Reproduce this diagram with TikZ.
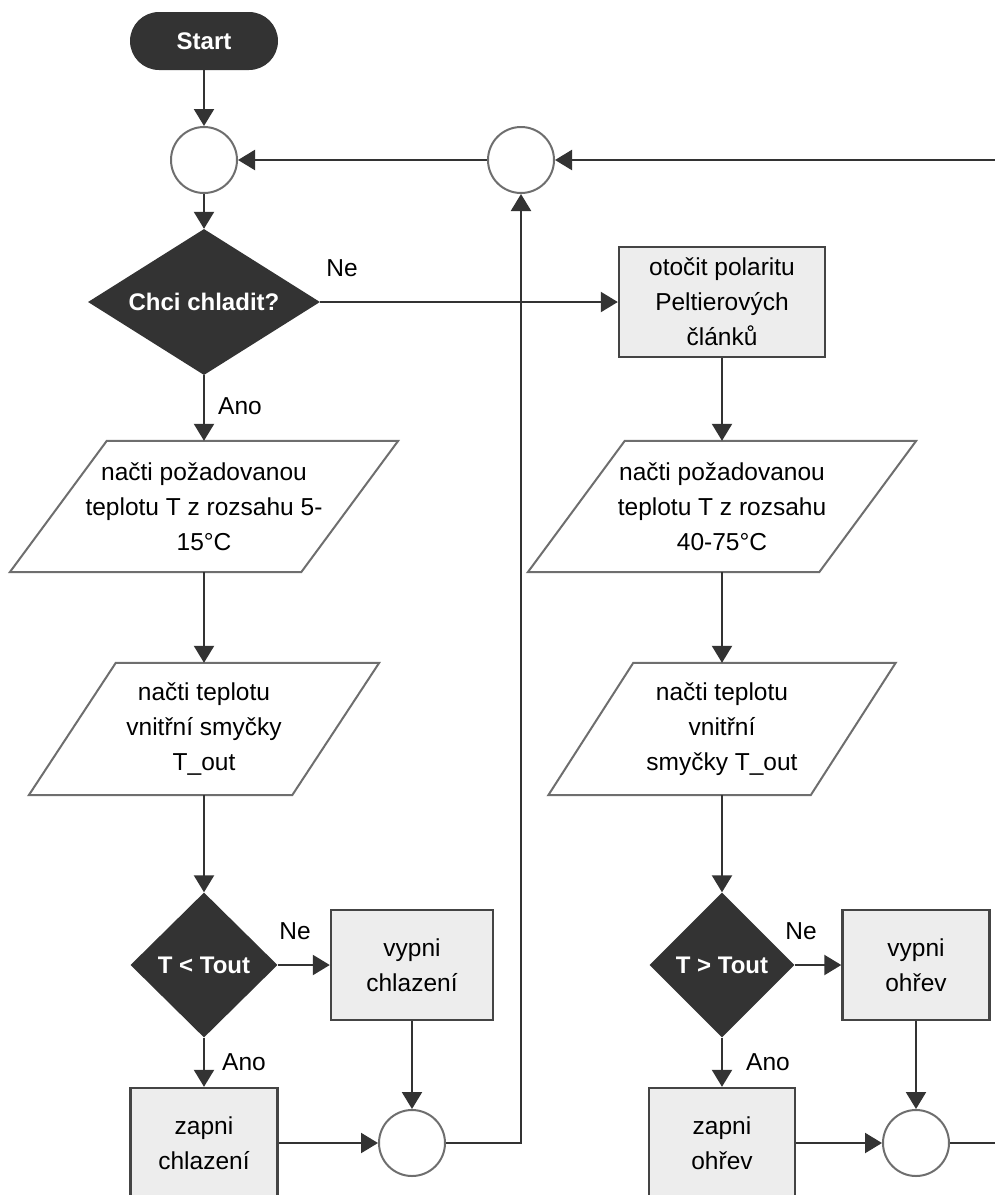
\documentclass[tikz,border=0pt]{standalone}
\usepackage{fontspec}
\setmainfont{Liberation Sans}
\usetikzlibrary{shapes.geometric,arrows.meta}
\definecolor{dark}{HTML}{333333}
\definecolor{boxfill}{HTML}{EDEDED}
\definecolor{boxline}{HTML}{444444}
\definecolor{circline}{HTML}{6E6E6E}
\begin{document}
\begin{tikzpicture}[x=1pt,y=-1pt,
  font=\fontsize{24.5}{35}\selectfont,
  term/.style={rectangle, rounded corners=29pt, fill=dark, text=white, font=\fontsize{24}{35}\selectfont\bfseries, minimum width=148pt, minimum height=58pt, inner sep=0pt},
  dec/.style={diamond, fill=dark, text=white, font=\fontsize{24}{35}\selectfont\bfseries, inner sep=0pt},
  proc/.style={rectangle, draw=boxline, line width=2.4pt, fill=boxfill, align=center, inner sep=0pt},
  joint/.style={circle, draw=circline, line width=2pt, fill=white, minimum size=66pt, inner sep=0pt},
  iotext/.style={rectangle, inner sep=0pt, align=center},
  ioline/.style={draw=circline, line width=2pt, line join=miter},
  flow/.style={draw=dark, line width=2.2pt, -{Triangle[length=17pt,width=20pt]}},
  plain/.style={draw=dark, line width=2.2pt},
  lbl/.style={inner sep=0pt, text=black}
]
\useasboundingbox (0,0) rectangle (995,1195);
\clip (0,0) rectangle (995,1195);

% nodes
\node[term] (start) at (204,41) {Start};
\node[joint] (c1) at (204,160) {};
\node[joint] (c2) at (521,160) {};
\coordinate (re) at (995,160);
\node[dec, aspect=1.59, minimum width=232pt, minimum height=146pt] (d1) at (204,302) {Chci chladit?};
\node[proc, minimum width=206pt, minimum height=110pt] (otoc) at (722,302) {otočit polaritu\\Peltierových\\článků};

\node[iotext, minimum width=291pt, minimum height=131pt] (p1) at (204,506.5) {načti požadovanou\\teplotu T z rozsahu 5-\\15°C};
\draw[ioline] ([xshift=48.5pt]p1.north west) -- ([xshift=48.5pt]p1.north east) -- ([xshift=-48.5pt]p1.south east) -- ([xshift=-48.5pt]p1.south west) -- cycle;
\node[iotext, minimum width=263pt, minimum height=132pt] (p2) at (204,729) {načti teplotu\\vnitřní smyčky\\T\_out};
\draw[ioline] ([xshift=43.5pt]p2.north west) -- ([xshift=43.5pt]p2.north east) -- ([xshift=-43.5pt]p2.south east) -- ([xshift=-43.5pt]p2.south west) -- cycle;

\node[iotext, minimum width=291pt, minimum height=131pt] (rp1) at (722,506.5) {načti požadovanou\\teplotu T z rozsahu\\40-75°C};
\draw[ioline] ([xshift=48.5pt]rp1.north west) -- ([xshift=48.5pt]rp1.north east) -- ([xshift=-48.5pt]rp1.south east) -- ([xshift=-48.5pt]rp1.south west) -- cycle;
\node[iotext, minimum width=262pt, minimum height=132pt] (rp2) at (722,729) {načti teplotu\\vnitřní\\smyčky T\_out};
\draw[ioline] ([xshift=42.5pt]rp2.north west) -- ([xshift=42.5pt]rp2.north east) -- ([xshift=-42.5pt]rp2.south east) -- ([xshift=-42.5pt]rp2.south west) -- cycle;

\node[dec, minimum width=147pt, minimum height=145pt] (d2) at (204,965) {T < Tout};
\node[proc, minimum width=162pt, minimum height=110pt] (vyp1) at (412,965) {vypni\\chlazení};
\node[proc, minimum width=147pt, minimum height=110pt] (zap1) at (204,1143) {zapni\\chlazení};
\node[joint] (m1) at (412,1143) {};

\node[dec, minimum width=145pt, minimum height=145pt] (d3) at (722,965) {T > Tout};
\node[proc, minimum width=147pt, minimum height=110pt] (vyp2) at (916,965) {vypni\\ohřev};
\node[proc, minimum width=146pt, minimum height=110pt] (zap2) at (722,1143) {zapni\\ohřev};
\node[joint] (m2) at (916,1143) {};
\coordinate (re2) at (995,1143);

% labels
\node[lbl] (ne1) at (342,268) {Ne};
\node[lbl] (ano1) at (240,406) {Ano};
\node[lbl] (ne2) at (295,931) {Ne};
\node[lbl] (ano2) at (244,1062) {Ano};
\node[lbl] (ne3) at (801,931) {Ne};
\node[lbl] (ano3) at (768,1062) {Ano};

% connectors
\draw[flow] (start) -- (c1);
\draw[flow] (c1) -- (d1);
\draw[flow] (c2) -- (c1);
\draw[flow] (re) -- (c2);
\draw[flow] (m1.east) -| (c2.south);
\draw[flow] (d1.east) -- (otoc.west);
\draw[flow] (d1.south) -- (p1.north);
\draw[flow] (p1.south) -- (p2.north);
\draw[flow] (p2.south) -- (d2.north);
\draw[flow] (d2.east) -- (vyp1.west);
\draw[flow] (d2.south) -- (zap1.north);
\draw[flow] (vyp1.south) -- (m1.north);
\draw[flow] (zap1.east) -- (m1.west);

\draw[flow] (otoc.south) -- (rp1.north);
\draw[flow] (rp1.south) -- (rp2.north);
\draw[flow] (rp2.south) -- (d3.north);
\draw[flow] (d3.east) -- (vyp2.west);
\draw[flow] (d3.south) -- (zap2.north);
\draw[flow] (vyp2.south) -- (m2.north);
\draw[flow] (zap2.east) -- (m2.west);
\draw[plain] (m2.east) -- (re2);
\end{tikzpicture}
\end{document}
